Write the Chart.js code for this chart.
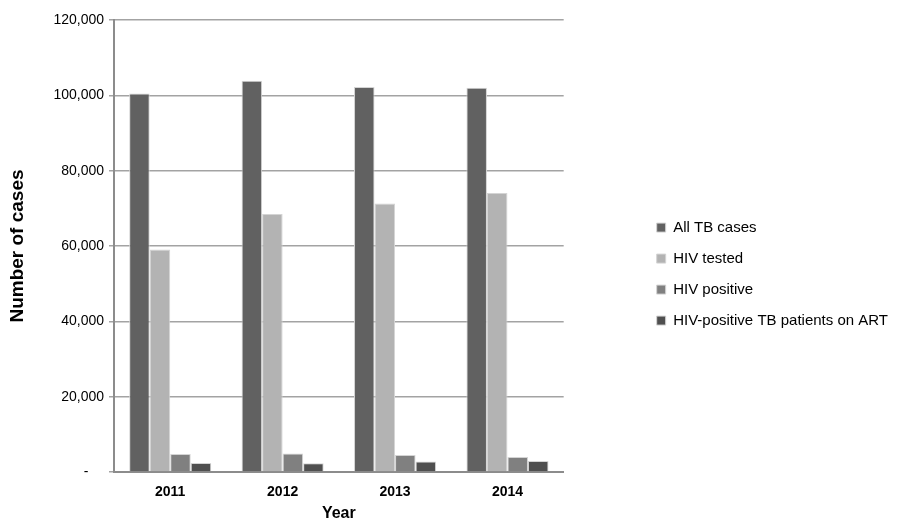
<!DOCTYPE html>
<html>
<head>
<meta charset="utf-8">
<script src="https://cdn.jsdelivr.net/npm/chart.js@4/dist/chart.umd.min.js"></script>
<style>
  html, body { margin: 0; padding: 0; background: #ffffff; }
  #wrap { width: 898px; height: 523px; position: relative; }
</style>
</head>
<body>
<div id="wrap"><canvas id="chart"></canvas></div>
<script>
// Years on the x axis
const years = ['2011', '2012', '2013', '2014'];

// Case counts per year
const allTbCases = [100500, 103900, 102200, 102000];
const hivTested = [59100, 68500, 71300, 74100];
const hivPositive = [4800, 4900, 4500, 4000];
const hivPositiveOnArt = [2400, 2300, 2800, 2900];

// Series names shown in the legend
const seriesNames = ['All TB cases', 'HIV tested', 'HIV positive', 'HIV-positive TB patients on ART'];

// Y axis ticks
const yTicks = [0, 20000, 40000, 60000, 80000, 100000, 120000];

const seriesColors = ['#616161', '#b3b3b3', '#808080', '#4f4f4f'];
const seriesValues = [allTbCases, hivTested, hivPositive, hivPositiveOnArt];

const FONT = "'Liberation Sans', Arial, sans-serif";

const datasets = seriesNames.map((name, i) => ({
  label: name,
  data: seriesValues[i],
  backgroundColor: seriesColors[i],
  borderColor: '#d4d4d4',
  borderWidth: 1,
  categoryPercentage: 0.73,
  barPercentage: 1.0
}));

new Chart(document.getElementById('chart'), {
  type: 'bar',
  data: { labels: years, datasets },
  options: {
    responsive: true,
    maintainAspectRatio: false,
    animation: false,
    devicePixelRatio: 1,
    layout: { padding: { top: 20, right: 0, bottom: 0, left: 0 } },
    plugins: {
      legend: {
        position: 'right',
        align: 'center',
        maxWidth: 320,
        // empty title block nudges the legend rows down a little
        title: { display: true, text: '', padding: { top: 2, bottom: 2 }, font: { size: 1 } },
        labels: {
          boxWidth: 9,
          boxHeight: 9,
          padding: 16,
          color: '#000000',
          font: { family: FONT, size: 15 }
        }
      },
      tooltip: { enabled: false }
    },
    scales: {
      x: {
        grid: { display: false },
        border: { display: true, color: '#8c8c8c', width: 2 },
        ticks: {
          color: '#000000',
          padding: 4,
          font: { family: FONT, size: 14, weight: 'bold' }
        },
        title: {
          display: true,
          text: 'Year',
          color: '#000000',
          padding: { top: 0, bottom: 0 },
          font: { family: FONT, size: 16, weight: 'bold' }
        },
        afterFit: (s) => { s.height = 51; }
      },
      y: {
        min: yTicks[0],
        max: yTicks[yTicks.length - 1],
        afterBuildTicks: (s) => { s.ticks = yTicks.map(v => ({ value: v })); },
        grid: {
          color: '#a3a3a3',
          lineWidth: 1.5,
          tickLength: 5,
          drawTicks: true
        },
        border: { display: true, color: '#8c8c8c', width: 2 },
        ticks: {
          color: '#000000',
          padding: 5,
          font: { family: FONT, size: 14 },
          callback: (v) => v === 0 ? '-    ' : Number(v).toLocaleString('en-US')
        },
        title: {
          display: true,
          text: 'Number of cases',
          color: '#000000',
          padding: { top: 6, bottom: 0 },
          font: { family: FONT, size: 19, weight: 'bold' }
        },
        afterFit: (s) => { s.width = 114; }
      },
      gap: {
        type: 'linear',
        position: 'right',
        display: true,
        grid: { display: false, drawTicks: false },
        border: { display: false },
        ticks: { display: false },
        afterFit: (s) => { s.width = 77; }
      }
    }
  }
});
</script>
</body>
</html>
